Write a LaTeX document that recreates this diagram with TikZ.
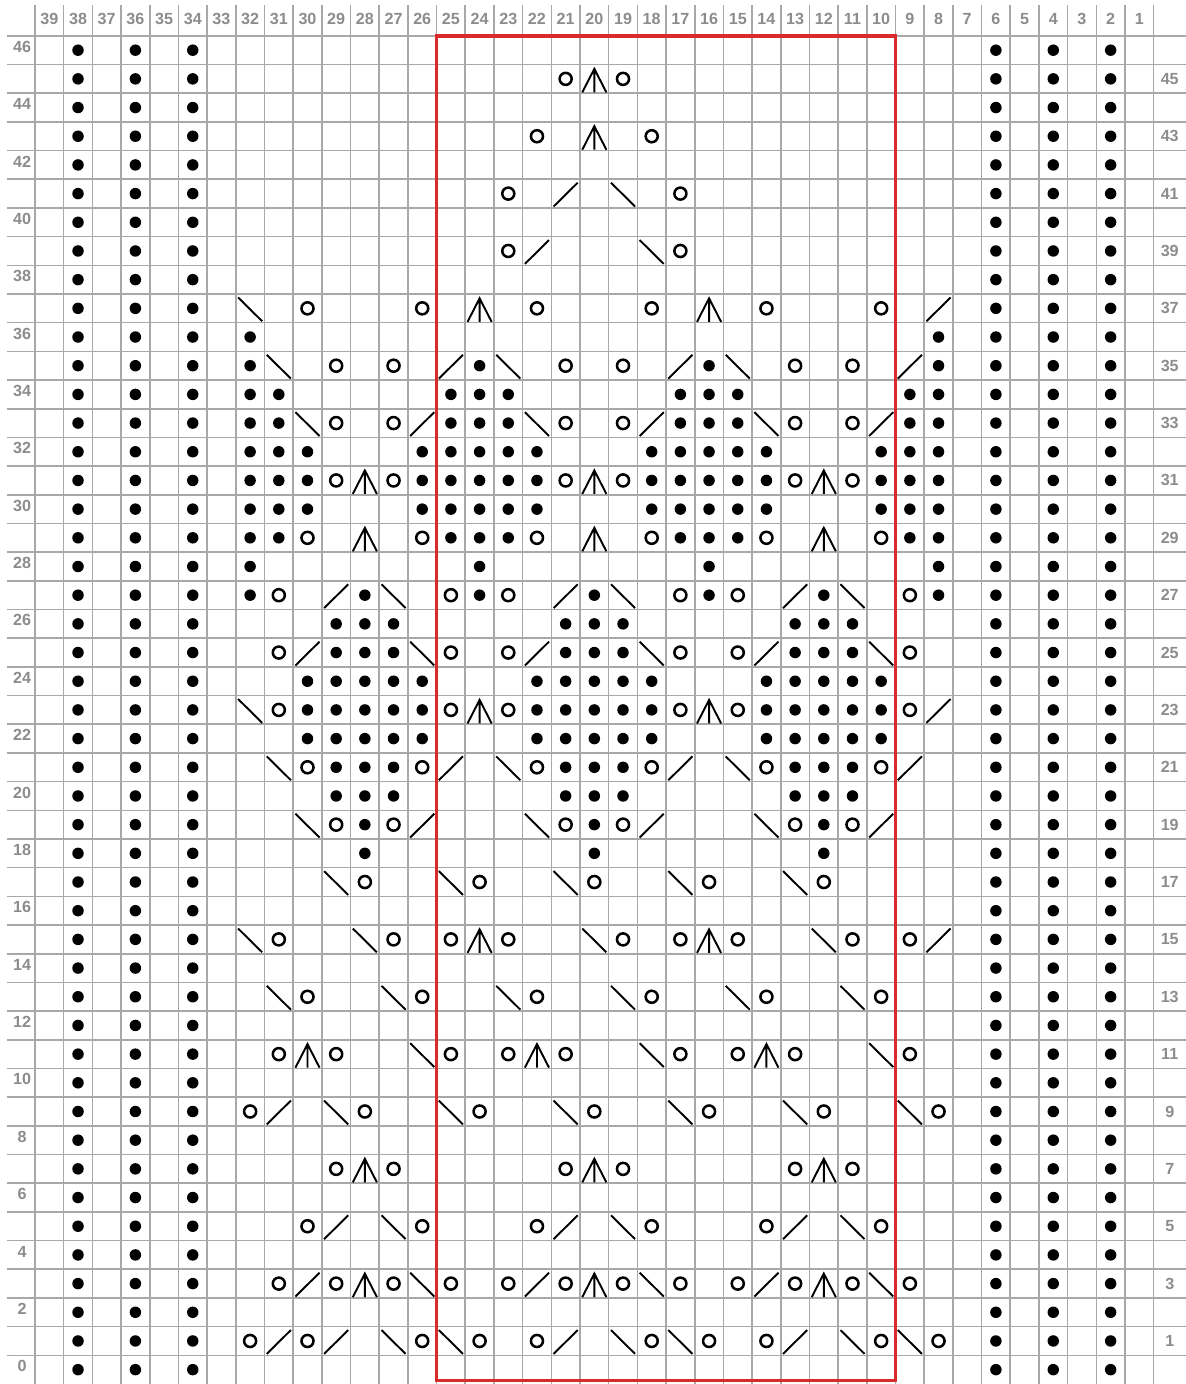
\documentclass[tikz,border=0pt]{standalone}
\usepackage{fontspec}
\setmainfont{Liberation Sans}
\usepackage{tikz}
\definecolor{gridgray}{HTML}{A8A8A8}
\definecolor{labelgray}{HTML}{8C8C8C}
\definecolor{repeatred}{HTML}{D92B2B}
\tikzset{
  gridline/.style={draw=gridgray, line width=1.6pt},
  repeatbox/.style={draw=repeatred, line width=3.4pt},
  numlabel/.style={text=labelgray, font=\fontsize{16}{16}\selectfont\bfseries, inner sep=0pt},
  symline/.style={line width=1.9pt},
  purl/.pic={\fill (0,0) circle (0.2);},
  yarnover/.pic={\draw[line width=2.5pt] (0,0) circle (0.21);},
  ktwotog/.pic={\draw[symline] (-0.42,-0.45) -- (0.42,0.38);},
  sskdec/.pic={\draw[symline] (-0.42,0.38) -- (0.42,-0.45);},
  cddec/.pic={\draw[symline] (-0.42,-0.47) -- (0,0.35) -- (0.42,-0.47) (0,0.35) -- (0,-0.47);}
}

\begin{document}
\begin{tikzpicture}
\useasboundingbox (-1.22,0) rectangle (40.12,48.25);
\foreach \x in {0,...,39} \draw[gridline] (\x,0) -- (\x,48.08);
\foreach \y in {1,...,47} \draw[gridline] (-0.98,\y) -- (40.12,\y);
\draw[repeatbox] (14,0.12) rectangle (30,47);

\foreach \c in {1,...,39} \node[numlabel] (head\c) at ({39.5-\c},47.58) {\c};
\foreach \r in {0,2,...,46} \node[numlabel] (left\r) at (-0.45,{\r+0.62}) {\r};
\foreach \r in {1,3,...,45} \node[numlabel] (right\r) at (39.56,{\r+0.5}) {\r};

\foreach \r in {0,...,46}
  \foreach \c in {38,36,34,6,4,2} \pic at ({39.5-\c},{\r+0.5}) {purl};

\foreach \r/\cols in {36/{32,8}, 35/{32,24,16,8},
  34/{32,31,25,24,23,17,16,15,9,8}, 33/{32,31,25,24,23,17,16,15,9,8},
  32/{32,31,30,26,25,24,23,22,18,17,16,15,14,10,9,8},
  31/{32,31,30,26,25,24,23,22,18,17,16,15,14,10,9,8},
  30/{32,31,30,26,25,24,23,22,18,17,16,15,14,10,9,8},
  29/{32,31,25,24,23,17,16,15,9,8}, 28/{32,24,16,8}, 27/{32,28,24,20,16,12,8},
  26/{29,28,27,21,20,19,13,12,11}, 25/{29,28,27,21,20,19,13,12,11},
  24/{30,29,28,27,26,22,21,20,19,18,14,13,12,11,10},
  23/{30,29,28,27,26,22,21,20,19,18,14,13,12,11,10},
  22/{30,29,28,27,26,22,21,20,19,18,14,13,12,11,10},
  21/{29,28,27,21,20,19,13,12,11}, 20/{29,28,27,21,20,19,13,12,11},
  19/{28,20,12}, 18/{28,20,12}}
  {\foreach \c in \cols \pic at ({39.5-\c},{\r+0.5}) {purl};}

\foreach \r/\cols in {45/{21,19}, 43/{22,18}, 41/{23,17}, 39/{23,17},
  37/{30,26,22,18,14,10}, 35/{29,27,21,19,13,11}, 33/{29,27,21,19,13,11},
  31/{29,27,21,19,13,11}, 29/{30,26,22,18,14,10}, 27/{31,25,23,17,15,9},
  25/{31,25,23,17,15,9}, 23/{31,25,23,17,15,9}, 21/{30,26,22,18,14,10},
  19/{29,27,21,19,13,11}, 17/{28,24,20,16,12}, 15/{31,27,25,23,19,17,15,11,9},
  13/{30,26,22,18,14,10}, 11/{31,29,25,23,21,17,15,13,9}, 9/{32,28,24,20,16,12,8},
  7/{29,27,21,19,13,11}, 5/{30,26,22,18,14,10},
  3/{31,29,27,25,23,21,19,17,15,13,11,9}, 1/{32,30,26,24,22,18,16,14,10,8}}
  {\foreach \c in \cols \pic at ({39.5-\c},{\r+0.5}) {yarnover};}

\foreach \r/\cols in {41/{21}, 39/{22}, 37/{8}, 35/{25,17,9}, 33/{26,18,10},
  27/{29,21,13}, 25/{30,22,14}, 23/{8}, 21/{25,17,9}, 19/{26,18,10}, 15/{8},
  9/{31}, 5/{29,21,13}, 3/{30,22,14}, 1/{31,29,21,13}}
  {\foreach \c in \cols \pic at ({39.5-\c},{\r+0.5}) {ktwotog};}

\foreach \r/\cols in {41/{19}, 39/{18}, 37/{32}, 35/{31,23,15}, 33/{30,22,14},
  27/{27,19,11}, 25/{26,18,10}, 23/{32}, 21/{31,23,15}, 19/{30,22,14},
  17/{29,25,21,17,13}, 15/{32,28,20,12}, 13/{31,27,23,19,15,11}, 11/{26,18,10},
  9/{29,25,21,17,13,9}, 5/{27,19,11}, 3/{26,18,10}, 1/{27,25,19,17,11,9}}
  {\foreach \c in \cols \pic at ({39.5-\c},{\r+0.5}) {sskdec};}

\foreach \r/\cols in {45/{20}, 43/{20}, 37/{24,16}, 31/{28,20,12}, 29/{28,20,12},
  23/{24,16}, 15/{24,16}, 11/{30,22,14}, 7/{28,20,12}, 3/{28,20,12}}
  {\foreach \c in \cols \pic at ({39.5-\c},{\r+0.5}) {cddec};}
\end{tikzpicture}
\end{document}
